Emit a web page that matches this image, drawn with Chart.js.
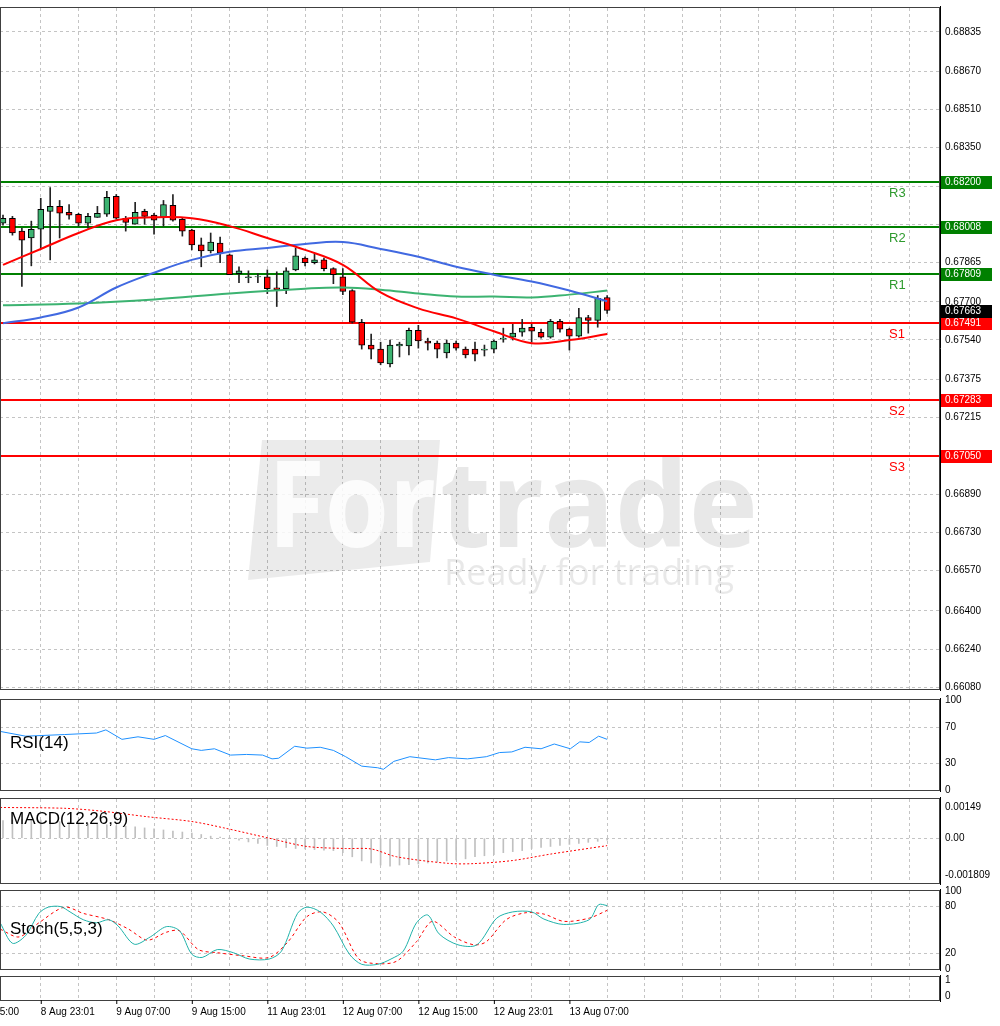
<!DOCTYPE html>
<html><head><meta charset="utf-8">
<script src="https://cdn.jsdelivr.net/npm/chart.js@4/dist/chart.umd.min.js"></script>
<style>
html,body{margin:0;padding:0;background:#fff;overflow:hidden}
.p{position:absolute;left:0;width:1000px}
canvas{display:block}
</style></head><body>
<div class="p" style="top:-3px"><canvas id="cMain" width="1000" height="703"></canvas></div>
<div class="p" style="top:689px"><canvas id="cRsi" width="1000" height="112"></canvas></div>
<div class="p" style="top:788px"><canvas id="cMacd" width="1000" height="106"></canvas></div>
<div class="p" style="top:880px"><canvas id="cSto" width="1000" height="100"></canvas></div>
<div class="p" style="top:966px"><canvas id="cEmpty" width="1000" height="60"></canvas></div>
<script>
// ---------- DATA ----------
const open  = [.68030,.68051,.67997,.67968,.68005,.68080,.68101,.68076,.68068,.68030,.68055,.68068,.68143,.68051,.68026,.68080,.68064,.68055,.68105,.68047,.68001,.67939,.67914,.67947,.67897,.67818,.67801,.67805,.67805,.67759,.67755,.67834,.67884,.67864,.67876,.67839,.67805,.67747,.67614,.67518,.67501,.67439,.67514,.67514,.67580,.67535,.67526,.67485,.67526,.67501,.67501,.67497,.67501,.67543,.67551,.67572,.67593,.67572,.67551,.67618,.67585,.67555,.67634,.67622,.67718];
const high  = [.68064,.68059,.68009,.68039,.68135,.68180,.68126,.68109,.68072,.68072,.68101,.68164,.68151,.68059,.68118,.68089,.68072,.68126,.68151,.68051,.68005,.67968,.67989,.67972,.67901,.67847,.67830,.67818,.67834,.67826,.67843,.67926,.67889,.67901,.67884,.67843,.67839,.67751,.67626,.67564,.67530,.67539,.67530,.67589,.67601,.67547,.67535,.67539,.67535,.67510,.67530,.67518,.67539,.67589,.67605,.67626,.67605,.67585,.67626,.67626,.67589,.67672,.67643,.67726,.67726];
const low   = [.68022,.67980,.67764,.67851,.67926,.67876,.67968,.68047,.68018,.68009,.68055,.68059,.68047,.67997,.68026,.68026,.67984,.68018,.68039,.67976,.67918,.67847,.67905,.67864,.67814,.67780,.67780,.67780,.67734,.67680,.67734,.67830,.67851,.67859,.67830,.67776,.67730,.67610,.67501,.67460,.67435,.67426,.67468,.67476,.67505,.67497,.67464,.67464,.67497,.67464,.67451,.67472,.67485,.67530,.67539,.67555,.67530,.67547,.67547,.67572,.67497,.67551,.67568,.67593,.67651];
const close = [.68051,.67989,.67959,.68005,.68089,.68101,.68072,.68064,.68030,.68059,.68072,.68139,.68051,.68034,.68076,.68059,.68043,.68109,.68043,.67997,.67939,.67914,.67951,.67905,.67814,.67830,.67805,.67805,.67755,.67751,.67830,.67893,.67864,.67876,.67839,.67814,.67743,.67614,.67518,.67501,.67443,.67518,.67522,.67580,.67535,.67526,.67501,.67526,.67505,.67476,.67480,.67501,.67535,.67547,.67568,.67589,.67576,.67551,.67618,.67585,.67555,.67634,.67622,.67714,.67664];

const maIdx   = [0,4,8,12,16,20,24,28,32,36,40,44,48,52,56,60,64];
const maRed   = [.67855,.67922,.67989,.68043,.68055,.68051,.68018,.67968,.67918,.67855,.67739,.67672,.67630,.67576,.67526,.67539,.67564];
const maBlue  = [.67610,.67634,.67676,.67760,.67822,.67876,.67910,.67926,.67943,.67951,.67922,.67889,.67847,.67814,.67785,.67747,.67702];
const maGreenIdx = [0,8,16,24,32,36,40,44,48,52,56,60,64];
const maGreen = [.67685,.67693,.67710,.67735,.67755,.67760,.67751,.67735,.67722,.67722,.67718,.67730,.67747];

const levelNames  = ['R3','R2','R1','S1','S2','S3'];
const levelLabels = ['0.68200','0.68008','0.67809','0.67491','0.67283','0.67050'];
const levelPos    = [0.68205,0.68014,0.67818,0.67610,0.67289,0.67051];
const currentPrice = 0.67663;

const priceTicks = [0.68835,0.68670,0.68510,0.68350,0.68185,0.68025,0.67865,0.67700,0.67540,0.67375,0.67215,0.67055,0.66890,0.66730,0.66570,0.66400,0.66240,0.66080];

const rsiX = [-0.3,2.4,6.5,9.9,10.9,12.6,14.3,16.0,17.2,20.0,21.0,22.4,24.1,25.8,27.5,28.5,29.2,30.9,32.2,33.6,35.0,36.3,38.0,39.7,40.3,41.4,43.1,45.8,47.2,49.2,51.2,52.6,53.9,55.3,57.0,58.4,60.1,61.1,62.1,63.1,64.0];
const rsiY = [65.1,59.8,61.6,63.3,66.8,56.3,59.1,56.3,60.5,45.8,44,45.8,38.8,39.5,38.8,34.6,35.3,48.6,46.5,47.5,44,37,26.5,24.7,23,31.8,37,33.5,36,34.6,37,41.6,42.3,47.5,45.8,51.1,45.8,53.5,52.8,59.8,56.3];

const macdHist = [.00085,.00088,.0009,.0009,.00088,.00085,.0008,.00078,.00075,.0007,.00068,.00065,.0006,.00058,.00055,.0005,.00045,.0004,.00035,.0003,.00025,.00018,.0001,.00005,.00002,-.0001,-.00018,-.00025,-.00035,-.0004,-.00045,-.0005,-.00052,-.00055,-.00058,-.0006,-.0007,-.0009,-.0011,-.0012,-.0013,-.00135,-.0013,-.00128,-.00125,-.0012,-.00115,-.0011,-.00105,-.001,-.0009,-.00085,-.0008,-.0007,-.00065,-.0006,-.0005,-.00045,-.0004,-.00035,-.0003,-.00025,-.0002,-.00015,-.0001];
const macdSigX = [-0.3,6.5,10.5,15.3,20,23.4,28.2,32.2,36.3,39,41.7,47.2,49.9,54,58,64];
const macdSigY = [.00149,.00145,.00131,.00104,.00081,.0005,0,-.0004,-.0005,-.00052,-.0009,-.00122,-.00123,-.00108,-.00077,-.00036];

const stoMainX = [-0.3,1.0,2.4,3.8,4.8,6.1,7.1,8.5,9.9,11.2,12.2,13.9,15.6,17.3,18.7,20,21.1,22.7,24.4,26.1,28.2,29.5,31.2,32.2,33.6,35,36.7,38,39.7,41.1,42.4,43.8,45,46.2,48.2,50.2,52.3,54,56,57.3,59.4,62.1,63.1,64];
const stoMainY = [59.2,33,43,71.3,79.3,80,73.2,63.2,59.2,63.2,55.1,31.8,41.1,54.3,49,18.9,14.8,24.9,20.9,12.8,12.8,22.9,71.3,79.3,73.2,55.1,18.9,6,6,12.8,22.9,59.2,69.2,45,31,31,65.2,73.2,73.2,64,57.1,63.2,82.5,81.3];
const stoSigX = [-0.3,1.7,3.8,6.5,8.5,11.2,13.3,15.3,17.3,18.7,20.7,22.7,25.5,28.2,30.2,32.2,33.9,35.6,37.7,39.7,41.7,43.8,45.5,47.8,49.9,51.2,53.3,55.3,57.3,59.4,62.1,64];
const stoSigY = [51.1,41.1,59.2,79.3,71.3,63.2,51.1,37,47.1,49,24.9,20.9,16.9,14.8,35,67.2,73.2,59.2,12.8,6.8,10,35,61.1,41.1,31,35,63.2,72,70.4,61.1,65.2,75.2];

const timeIdx = [-4,4,12,20,28,36,44,52,60];
const timeLabels = ['8 Aug 15:00','8 Aug 23:01','9 Aug 07:00','9 Aug 15:00','11 Aug 23:01','12 Aug 07:00','12 Aug 15:00','12 Aug 23:01','13 Aug 07:00'];

// ---------- COMMON ----------
const X_MIN = -0.318, X_MAX = 99.26;
const FONT = 'Liberation Sans';
const GRID = '#c4c4c4';
const PAD = 8;
const vGrid = [];
for (let i = 4; i < 100; i += 4) vGrid.push(i);

function xScale() {
  return {
    type: 'linear', min: X_MIN, max: X_MAX, display: true, offset: false,
    afterFit: s => { s.height = 0; },
    afterBuildTicks: s => { s.ticks = vGrid.map(v => ({value: v})); },
    ticks: {display: false},
    grid: {color: GRID, drawTicks: false, offset: false},
    border: {display: false, dash: [3, 3]}
  };
}
function yScale(min, max, ticks, fmt, gridFn) {
  return {
    type: 'linear', position: 'right', min, max,
    afterFit: s => { s.width = 60; },
    afterBuildTicks: s => { s.ticks = ticks.map(v => ({value: v})); },
    ticks: {padding: 5, color: '#000', font: {family: FONT, size: 10}, callback: fmt, autoSkip: false},
    grid: {drawTicks: false, color: gridFn || GRID},
    border: {display: false, dash: [3, 3]}
  };
}
const framePlugin = {
  id: 'frame',
  afterDraw(c) {
    const a = c.chartArea, ctx = c.ctx;
    ctx.save();
    ctx.strokeStyle = '#404040'; ctx.lineWidth = 1;
    ctx.strokeRect(a.left + 0.5, a.top - 0.5, a.right - a.left - 1, a.bottom - a.top + 1);
    ctx.strokeStyle = '#000';
    ctx.beginPath(); ctx.moveTo(a.right + 0.5, a.top - 2); ctx.lineTo(a.right + 0.5, a.bottom + 2); ctx.stroke();
    const t = c.options.plugins.frame && c.options.plugins.frame.title;
    if (t) {
      ctx.font = '17px "' + FONT + '"'; ctx.fillStyle = '#000'; ctx.textBaseline = 'middle';
      ctx.fillText(t, 10, a.top + c.options.plugins.frame.ty);
    }
    ctx.restore();
  }
};
Chart.register(framePlugin);
const basePlugins = {legend: {display: false}, tooltip: {enabled: false}};
function pts(xs, ys) { return xs.map((x, i) => ({x, y: ys[i]})); }
const baseOpts = {responsive: false, animation: false, devicePixelRatio: 1};

// ---------- MAIN ----------
const bodies = open.map((o, i) => {
  const c = close[i];
  const lo = Math.min(o, c), hi = Math.max(o, c);
  return {x: i, y: hi - lo < 0.00002 ? [lo - 0.00001, hi + 0.00001] : [lo, hi]};
});
const wicks = open.map((o, i) => ({x: i, y: [low[i], high[i]]}));
const upColor = i => close[i] >= open[i] ? '#3cb371' : '#ff0000';
const priceLabel = v => levelPos.some(l => Math.abs(l - v) < 0.00025) ? '' : v.toFixed(5);

const mainPlugin = {
  id: 'mainDeco',
  beforeDatasetsDraw(c) {
    const ctx = c.ctx;
    ctx.save();
    ctx.translate(0, 3);
    ctx.fillStyle = 'rgba(0,0,0,0.08)';
    ctx.beginPath();
    ctx.moveTo(262, 440); ctx.lineTo(440, 440); ctx.lineTo(430, 562); ctx.lineTo(248, 580); ctx.closePath(); ctx.fill();
    ctx.font = 'bold 120px "Open Sans"';
    ctx.fillStyle = 'rgba(255,255,255,0.85)';
    ctx.textBaseline = 'alphabetic';
    ctx.fillText('For', 268, 547, 168);
    ctx.fillStyle = 'rgba(0,0,0,0.09)';
    ctx.fillText('trade', 440, 547, 318);
    ctx.font = '36px "Open Sans"';
    ctx.fillText('Ready for trading', 444, 585, 314);
    ctx.restore();
    ctx.save();
    const y = c.scales.y, a = c.chartArea;
    levelPos.forEach((v, i) => {
      const py = Math.round(y.getPixelForValue(v));
      const col = i < 3 ? '#008000' : '#ff0000';
      ctx.strokeStyle = col; ctx.lineWidth = 2;
      ctx.beginPath(); ctx.moveTo(a.left, py); ctx.lineTo(a.right, py); ctx.stroke();
      ctx.fillStyle = i < 3 ? '#2e9a2e' : '#ff0000';
      ctx.font = '13px "' + FONT + '"'; ctx.textBaseline = 'middle';
      ctx.fillText(levelNames[i], 889, py + 11);
    });
    ctx.restore();
  },
  afterDraw(c) {
    const ctx = c.ctx, y = c.scales.y;
    ctx.save();
    ctx.font = '10px "' + FONT + '"'; ctx.textBaseline = 'middle';
    const box = (v, txt, bg) => {
      const py = Math.round(y.getPixelForValue(v));
      ctx.fillStyle = bg; ctx.fillRect(941, py - 6, 51, 13);
      ctx.fillStyle = '#fff'; ctx.fillText(txt, 945, py + 0.5);
    };
    levelPos.forEach((v, i) => box(v, levelLabels[i], i < 3 ? '#008000' : '#ff0000'));
    box(currentPrice, currentPrice.toFixed(5), '#000');
    ctx.restore();
  }
};

new Chart(document.getElementById('cMain'), {
  data: {datasets: [
    {type: 'line', data: pts(maIdx, maRed), borderColor: '#ff0000', borderWidth: 2, pointRadius: 0, tension: 0.4, order: 1},
    {type: 'line', data: pts(maIdx, maBlue), borderColor: '#4169e1', borderWidth: 2, pointRadius: 0, tension: 0.4, order: 1},
    {type: 'line', data: pts(maGreenIdx, maGreen), borderColor: '#3cb371', borderWidth: 2, pointRadius: 0, tension: 0.4, order: 1},
    {type: 'bar', data: bodies, barThickness: 6, grouped: false, order: 2,
     backgroundColor: c => upColor(c.dataIndex), borderColor: '#000', borderWidth: 1, borderSkipped: false},
    {type: 'bar', data: wicks, barThickness: 1, grouped: false, order: 3, backgroundColor: '#222'}
  ]},
  options: Object.assign({}, baseOpts, {
    layout: {padding: {top: PAD, bottom: PAD, left: 0, right: 0}},
    scales: {x: xScale(), y: yScale(0.66072, 0.68935, priceTicks, priceLabel)},
    plugins: Object.assign({}, basePlugins, {frame: {}})
  }),
  plugins: [mainPlugin]
});

// ---------- RSI ----------
new Chart(document.getElementById('cRsi'), {
  type: 'line',
  data: {datasets: [{data: pts(rsiX, rsiY), borderColor: '#1e90ff', borderWidth: 1, pointRadius: 0, tension: 0}]},
  options: Object.assign({}, baseOpts, {
    layout: {padding: {top: PAD, bottom: PAD}},
    scales: {
      x: xScale(),
      y: yScale(0, 100, [100, 70, 30, 0], v => String(v), c => (c.tick && (c.tick.value === 70 || c.tick.value === 30)) ? GRID : 'rgba(0,0,0,0)')
    },
    plugins: Object.assign({}, basePlugins, {frame: {title: 'RSI(14)', ty: 43}})
  })
});

// ---------- MACD ----------
new Chart(document.getElementById('cMacd'), {
  data: {datasets: [
    {type: 'line', data: pts(macdSigX, macdSigY), borderColor: '#ff0000', borderWidth: 1, borderDash: [2, 2], pointRadius: 0, tension: 0.3, order: 1},
    {type: 'bar', data: macdHist.map((v, i) => ({x: i, y: v})), barThickness: 1, backgroundColor: '#c0c0c0', order: 2}
  ]},
  options: Object.assign({}, baseOpts, {
    layout: {padding: {top: PAD, bottom: PAD}},
    scales: {
      x: xScale(),
      y: yScale(-0.00217, 0.00190, [0.00149, 0, -0.001809], v => v === 0 ? '0.00' : (v > 0 ? v.toFixed(5) : v.toFixed(6)), c => (c.tick && c.tick.value === 0) ? GRID : 'rgba(0,0,0,0)')
    },
    plugins: Object.assign({}, basePlugins, {frame: {title: 'MACD(12,26,9)', ty: 20}})
  })
});

// ---------- STOCH ----------
new Chart(document.getElementById('cSto'), {
  type: 'line',
  data: {datasets: [
    {data: pts(stoMainX, stoMainY), borderColor: '#20b2aa', borderWidth: 1, pointRadius: 0, tension: 0.3},
    {data: pts(stoSigX, stoSigY), borderColor: '#ff0000', borderWidth: 1, borderDash: [3, 3], pointRadius: 0, tension: 0.3}
  ]},
  options: Object.assign({}, baseOpts, {
    layout: {padding: {top: PAD, bottom: PAD}},
    scales: {
      x: xScale(),
      y: yScale(0, 100, [100, 80, 20, 0], v => String(v), c => (c.tick && (c.tick.value === 80 || c.tick.value === 20)) ? GRID : 'rgba(0,0,0,0)')
    },
    plugins: Object.assign({}, basePlugins, {frame: {title: 'Stoch(5,5,3)', ty: 38}})
  })
});

// ---------- EMPTY + TIME AXIS ----------
const timePlugin = {
  id: 'time',
  afterDraw(c) {
    const ctx = c.ctx, x = c.scales.x, a = c.chartArea;
    ctx.save();
    ctx.font = '10px "' + FONT + '"'; ctx.fillStyle = '#000'; ctx.textBaseline = 'middle';
    timeIdx.forEach((v, i) => {
      const px = x.getPixelForValue(v);
      ctx.fillText(timeLabels[i], px, a.bottom + 12);
      ctx.strokeStyle = '#000';
      ctx.beginPath(); ctx.moveTo(px + 0.5, a.bottom); ctx.lineTo(px + 0.5, a.bottom + 4); ctx.stroke();
    });
    ctx.restore();
  }
};
new Chart(document.getElementById('cEmpty'), {
  type: 'line',
  data: {datasets: [{data: []}]},
  options: Object.assign({}, baseOpts, {
    layout: {padding: {top: PAD, bottom: 26}},
    scales: {
      x: xScale(),
      y: yScale(-0.2, 1.2, [1, 0], v => String(v), 'rgba(0,0,0,0)')
    },
    plugins: Object.assign({}, basePlugins, {frame: {}})
  }),
  plugins: [timePlugin]
});
</script>
</body></html>
